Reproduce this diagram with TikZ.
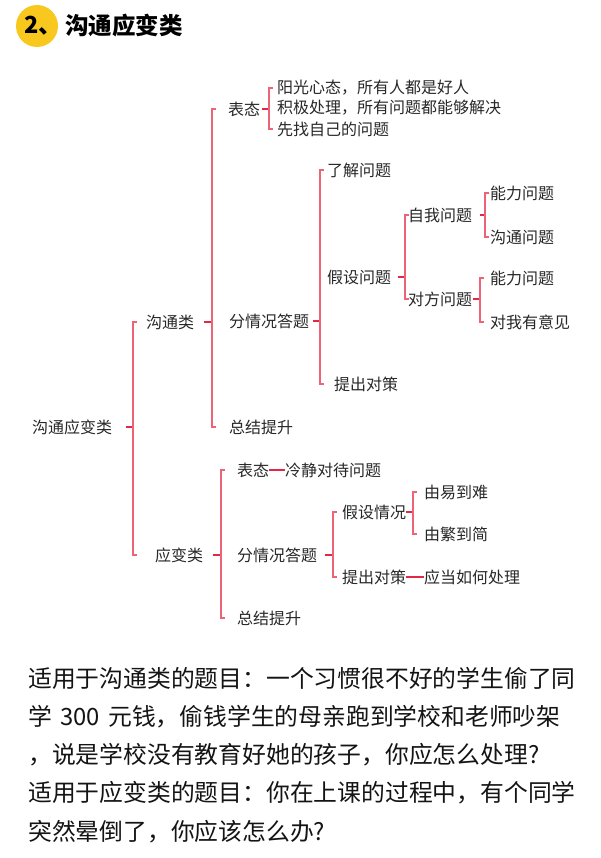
\documentclass[tikz,border=0pt]{standalone}
\usepackage{fontspec}
\usetikzlibrary{calc}
\newfontfamily\cjk{Noto Sans CJK SC}
\definecolor{tickred}{RGB}{225,40,70}
\definecolor{brred}{RGB}{236,100,118}
\definecolor{txtgray}{RGB}{40,40,40}
\definecolor{bodyblack}{RGB}{20,20,20}
\definecolor{titleyellow}{RGB}{248,200,30}
% #1 bracket x coordinate, #2 parent, #3 top child, #4 bottom child, #5 tick length
\newcommand\mybracket[5]{%
  \draw[tickline] ($(#1 |- #2)+(-#5,0)$) -- (#1 |- #2);
  \draw[brline] ($(#1 |- #3)+(4,0)$) -- (#1 |- #3) -- (#1 |- #4) -- ++(4,0);
}
\begin{document}
\begin{tikzpicture}[x=1pt,y=-1pt,
  txt/.style={anchor=west, inner sep=0pt, text=txtgray, font=\cjk\fontsize{16}{16}\selectfont},
  body/.style={anchor=west, inner sep=0pt, text=bodyblack, font=\cjk\fontsize{23.8}{24}\selectfont},
  titletxt/.style={anchor=west, inner sep=0pt, text=black, font=\cjk\bfseries\fontsize{23.5}{24}\selectfont},
  tickline/.style={draw=tickred, line width=1.8pt},
  brline/.style={draw=brred, line width=1.1pt},
  dashline/.style={draw=tickred, line width=1.5pt}]
\useasboundingbox (0,0) rectangle (600,858);
\fill[white] (0,0) rectangle (600,858);

% title
\node[circle, fill=titleyellow, minimum size=42pt, inner sep=0pt] (badge) at (37,26) {};
\node[titletxt] (badgetxt) at (24,26) {2、};
\node[titletxt] (title) at (65,26) {沟通应变类};

% nodes
\node[txt] (root) at (32,427) {沟通应变类};
\node[txt] (gt) at (146,322) {沟通类};
\node[txt] (yb) at (155,555) {应变类};
\node[txt] (bt1) at (228,109) {表态};
\node[txt] (a1) at (277,88) {阳光心态，所有人都是好人};
\node[txt] (a2) at (277,108) {积极处理，所有问题都能够解决};
\node[txt] (a3) at (277,129) {先找自己的问题};
\node[txt] (fq1) at (229,321) {分情况答题};
\node[txt] (lj) at (327,170) {了解问题};
\node[txt] (jswt) at (327,277) {假设问题};
\node[txt] (tc1) at (334,384) {提出对策};
\node[txt] (zj1) at (229,427) {总结提升};
\node[txt] (zw) at (408,215) {自我问题};
\node[txt] (df) at (408,299) {对方问题};
\node[txt] (nl1) at (490,193) {能力问题};
\node[txt] (gt2) at (490,237) {沟通问题};
\node[txt] (nl2) at (490,278) {能力问题};
\node[txt] (yj) at (490,322) {对我有意见};
\node[txt] (bt2) at (237,470) {表态};
\node[txt] (lj2) at (285,470) {冷静对待问题};
\node[txt] (fq2) at (237,555) {分情况答题};
\node[txt] (zj2) at (237,618) {总结提升};
\node[txt] (jsqk) at (342,512) {假设情况};
\node[txt] (tc2) at (342,577) {提出对策};
\node[txt] (yn) at (424,492) {由易到难};
\node[txt] (fj) at (424,534) {由繁到简};
\node[txt] (ydcl) at (424,577) {应当如何处理};

% bracket x positions
\coordinate (b0) at (133,0);
\coordinate (b1) at (212,0);
\coordinate (b2) at (269,0);
\coordinate (b3) at (320,0);
\coordinate (b4) at (405,0);
\coordinate (b5) at (485,0);
\coordinate (b6) at (480,0);
\coordinate (b7) at (221,0);
\coordinate (b8) at (333,0);
\coordinate (b9) at (413,0);

\mybracket{b0}{root}{gt}{yb}{7}
\mybracket{b1}{gt}{bt1}{zj1}{8}
\mybracket{b2}{bt1}{a1}{a3}{7}
\mybracket{b3}{fq1}{lj}{tc1}{7}
\mybracket{b4}{jswt}{zw}{df}{7}
\mybracket{b5}{zw}{nl1}{gt2}{5}
\mybracket{b6}{df}{nl2}{yj}{7}
\mybracket{b7}{yb}{bt2}{zj2}{8}
\mybracket{b8}{fq2}{jsqk}{tc2}{8}
\mybracket{b9}{jsqk}{yn}{fj}{7}

\draw[dashline] (bt2.east) -- (lj2.west);
\draw[dashline] (tc2.east) -- (ydcl.west);

% body text
\node[body] (l1) at (28,678) {适用于沟通类的题目：一个习惯很不好的学生偷了同};
\node[body] (l2) at (28,717) {学\hspace{0.35em}300\hspace{0.35em}元钱，偷钱学生的母亲跑到学校和老师吵架};
\node[body] (l3) at (28,755) {，说是学校没有教育好她的孩子，你应怎么处理?};
\node[body] (l4) at (28,793) {适用于应变类的题目：你在上课的过程中，有个同学};
\node[body] (l5) at (28,832) {突然晕倒了，你应该怎么办?};
\end{tikzpicture}
\end{document}
